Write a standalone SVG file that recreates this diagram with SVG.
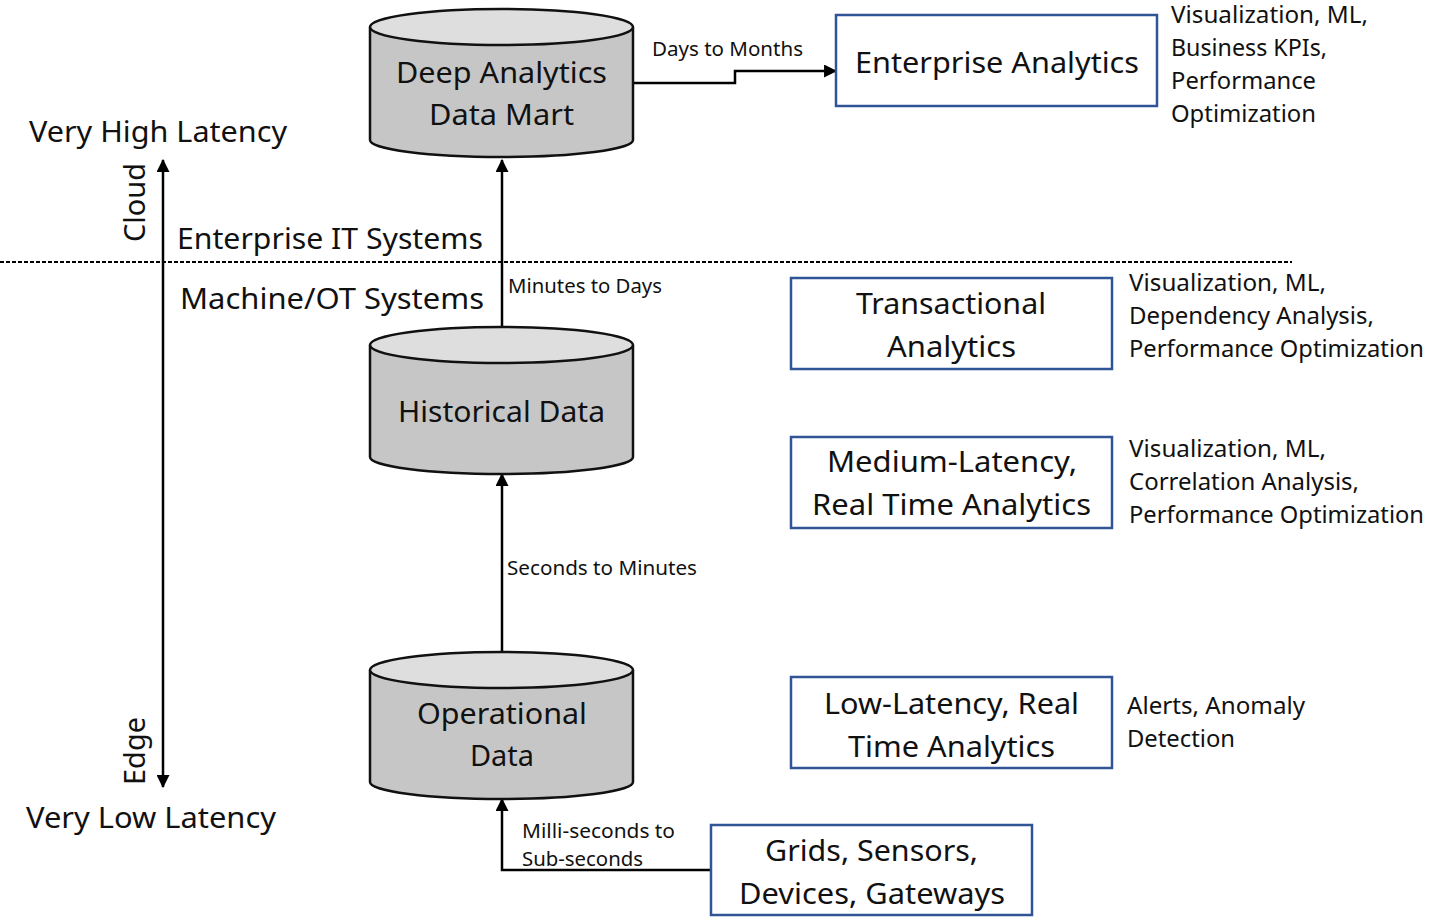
<svg xmlns="http://www.w3.org/2000/svg" width="1429" height="917" viewBox="0 0 1429 917">
<defs>
<marker id="ah" viewBox="0 0 12 12" refX="11" refY="6" markerWidth="13" markerHeight="13" markerUnits="userSpaceOnUse" orient="auto">
<path d="M0,0 L12,6 L0,12 z" fill="#000"/>
</marker>
<style>
text{font-family:"Noto Sans","Open Sans",sans-serif;fill:#111;}
.big{font-size:29px;}
.mid{font-size:23px;}
.sm{font-size:19px;}
.box{fill:#fff;stroke:#2f5597;stroke-width:2.5;}
.cylb{fill:#c6c6c6;stroke:#111;stroke-width:2.5;}
.cylt{fill:#dedede;stroke:#111;stroke-width:2.5;}
.ln{fill:none;stroke:#000;stroke-width:2.5;}
</style>
</defs>
<rect width="1429" height="917" fill="#fff"/>

<g id="divider">
<line x1="0" y1="262" x2="1292" y2="262" stroke="#000" stroke-width="2" stroke-dasharray="4 2"/>
</g>

<g id="connectors">
<path class="ln" d="M502,327 V160" marker-end="url(#ah)"/>
<path class="ln" d="M502,652 V474" marker-end="url(#ah)"/>
<path class="ln" d="M711,870 H502 V799" marker-end="url(#ah)"/>
<path class="ln" d="M633,83 H735 V71 H836" marker-end="url(#ah)"/>
<path class="ln" d="M163,240 V160" marker-end="url(#ah)"/>
<path class="ln" d="M163,240 V787" marker-end="url(#ah)"/>
<text class="sm" x="652" y="56" textLength="151" lengthAdjust="spacingAndGlyphs">Days to Months</text>
<text class="sm" x="508" y="293" textLength="154" lengthAdjust="spacingAndGlyphs">Minutes to Days</text>
<text class="sm" x="507" y="575" textLength="190" lengthAdjust="spacingAndGlyphs">Seconds to Minutes</text>
<text class="sm" x="522" y="838" textLength="153" lengthAdjust="spacingAndGlyphs">Milli-seconds to</text>
<text class="sm" x="522" y="866" textLength="121" lengthAdjust="spacingAndGlyphs">Sub-seconds</text>
</g>

<g id="axis-labels">
<text class="big" x="29" y="142" textLength="258" lengthAdjust="spacingAndGlyphs">Very High Latency</text>
<text class="big" x="26" y="828" textLength="250" lengthAdjust="spacingAndGlyphs">Very Low Latency</text>
<text class="big" x="177" y="249" textLength="306" lengthAdjust="spacingAndGlyphs">Enterprise IT Systems</text>
<text class="big" x="180" y="309" textLength="304" lengthAdjust="spacingAndGlyphs">Machine/OT Systems</text>
<text class="big" transform="translate(145,242) rotate(-90)" textLength="79" lengthAdjust="spacingAndGlyphs">Cloud</text>
<text class="big" transform="translate(145,785) rotate(-90)" textLength="68" lengthAdjust="spacingAndGlyphs">Edge</text>
</g>

<g id="deep-analytics">
<path class="cylb" d="M370,27 V140 A131.5,17 0 0 0 633,140 V27"/>
<ellipse class="cylt" cx="501.5" cy="27" rx="131.5" ry="18"/>
<text class="big" x="396" y="83" textLength="211" lengthAdjust="spacingAndGlyphs">Deep Analytics</text>
<text class="big" x="429" y="125" textLength="145" lengthAdjust="spacingAndGlyphs">Data Mart</text>
</g>

<g id="historical-data">
<path class="cylb" d="M370,345 V457 A131.5,17 0 0 0 633,457 V345"/>
<ellipse class="cylt" cx="501.5" cy="345" rx="131.5" ry="18"/>
<text class="big" x="398" y="422" textLength="207" lengthAdjust="spacingAndGlyphs">Historical Data</text>
</g>

<g id="operational-data">
<path class="cylb" d="M370,670 V782 A131.5,17 0 0 0 633,782 V670"/>
<ellipse class="cylt" cx="501.5" cy="670" rx="131.5" ry="18"/>
<text class="big" x="417" y="724" textLength="170" lengthAdjust="spacingAndGlyphs">Operational</text>
<text class="big" x="470" y="766" textLength="64" lengthAdjust="spacingAndGlyphs">Data</text>
</g>

<g id="enterprise-analytics">
<rect class="box" x="836" y="15" width="321" height="91"/>
<text class="big" x="855" y="73" textLength="284" lengthAdjust="spacingAndGlyphs">Enterprise Analytics</text>
<text class="mid" x="1171" y="23" textLength="197" lengthAdjust="spacingAndGlyphs">Visualization, ML,</text>
<text class="mid" x="1171" y="56" textLength="156" lengthAdjust="spacingAndGlyphs">Business KPIs,</text>
<text class="mid" x="1171" y="89" textLength="145" lengthAdjust="spacingAndGlyphs">Performance</text>
<text class="mid" x="1171" y="122" textLength="145" lengthAdjust="spacingAndGlyphs">Optimization</text>
</g>

<g id="transactional-analytics">
<rect class="box" x="791" y="278" width="321" height="91"/>
<text class="big" x="856" y="314" textLength="190" lengthAdjust="spacingAndGlyphs">Transactional</text>
<text class="big" x="887" y="357" textLength="129" lengthAdjust="spacingAndGlyphs">Analytics</text>
<text class="mid" x="1129" y="291" textLength="197" lengthAdjust="spacingAndGlyphs">Visualization, ML,</text>
<text class="mid" x="1129" y="324" textLength="245" lengthAdjust="spacingAndGlyphs">Dependency Analysis,</text>
<text class="mid" x="1129" y="357" textLength="295" lengthAdjust="spacingAndGlyphs">Performance Optimization</text>
</g>

<g id="medium-latency">
<rect class="box" x="791" y="437" width="321" height="91"/>
<text class="big" x="827" y="472" textLength="250" lengthAdjust="spacingAndGlyphs">Medium-Latency,</text>
<text class="big" x="812" y="515" textLength="279" lengthAdjust="spacingAndGlyphs">Real Time Analytics</text>
<text class="mid" x="1129" y="457" textLength="197" lengthAdjust="spacingAndGlyphs">Visualization, ML,</text>
<text class="mid" x="1129" y="490" textLength="230" lengthAdjust="spacingAndGlyphs">Correlation Analysis,</text>
<text class="mid" x="1129" y="523" textLength="295" lengthAdjust="spacingAndGlyphs">Performance Optimization</text>
</g>

<g id="low-latency">
<rect class="box" x="791" y="677" width="321" height="91"/>
<text class="big" x="824" y="714" textLength="255" lengthAdjust="spacingAndGlyphs">Low-Latency, Real</text>
<text class="big" x="848" y="757" textLength="207" lengthAdjust="spacingAndGlyphs">Time Analytics</text>
<text class="mid" x="1127" y="714" textLength="178" lengthAdjust="spacingAndGlyphs">Alerts, Anomaly</text>
<text class="mid" x="1127" y="747" textLength="108" lengthAdjust="spacingAndGlyphs">Detection</text>
</g>

<g id="grids-sensors">
<rect class="box" x="711" y="825" width="321" height="90"/>
<text class="big" x="765" y="861" textLength="213" lengthAdjust="spacingAndGlyphs">Grids, Sensors,</text>
<text class="big" x="739" y="904" textLength="266" lengthAdjust="spacingAndGlyphs">Devices, Gateways</text>
</g>
</svg>
